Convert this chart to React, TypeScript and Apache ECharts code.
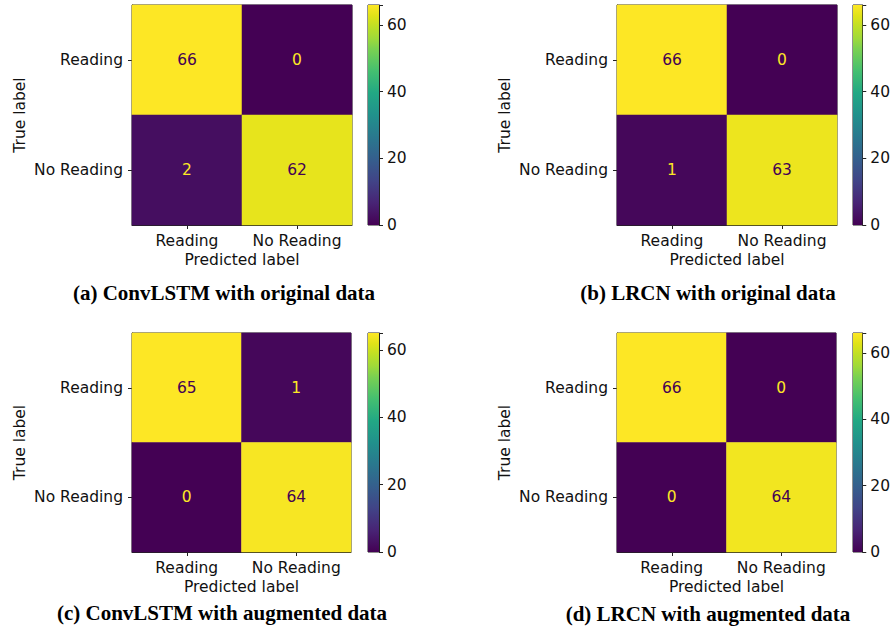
import React, { useEffect, useRef } from "react";
import * as echarts from "echarts";

const classLabels = ["Reading", "No Reading"];
// rows = true label, cols = predicted label
const matrixA = [[66, 0], [2, 62]];
const matrixB = [[66, 0], [1, 63]];
const matrixC = [[65, 1], [0, 64]];
const matrixD = [[66, 0], [0, 64]];
const captions = [
  "(a) ConvLSTM with original data",
  "(b) LRCN with original data",
  "(c) ConvLSTM with augmented data",
  "(d) LRCN with augmented data",
];
const colorbarTicks = [0, 20, 40, 60];

const viridisStops: [number, string][] = [
  [0.0, "#440154"], [0.1, "#482475"], [0.2, "#414487"], [0.3, "#355f8d"],
  [0.4, "#2a788e"], [0.5, "#21918c"], [0.6, "#22a884"], [0.7, "#44bf70"],
  [0.8, "#7ad151"], [0.85, "#a0da39"], [0.9, "#bddf26"], [0.95, "#dfe318"], [1.0, "#fde725"],
];

const FONT = "DejaVu Sans";

export default function App() {
  const ref = useRef<HTMLDivElement>(null);
  useEffect(() => {
    document.body.style.margin = "0";
    const chart = echarts.init(ref.current!, null, { renderer: "svg" });
    const matrices = [matrixA, matrixB, matrixC, matrixD];
    const pos = [
      { left: 132, top: 5, size: 220 },
      { left: 617, top: 5, size: 220 },
      { left: 132, top: 333, size: 219 },
      { left: 617, top: 333, size: 219 },
    ];
    const captionPos = [
      { x: 224, y: 293 },
      { x: 708, y: 293 },
      { x: 222, y: 613 },
      { x: 708, y: 614 },
    ];
    const grids: any[] = [];
    const xAxes: any[] = [];
    const yAxes: any[] = [];
    const series: any[] = [];
    const visualMaps: any[] = [];
    const graphics: any[] = [];
    const axisLineStyle = { color: "#222", width: 1 };
    const labelStyle = { fontFamily: FONT, fontSize: 15.5, color: "#111" };

    matrices.forEach((m, i) => {
      const p = pos[i];
      const flat = m.flat();
      const vmin = Math.min(...flat);
      const vmax = Math.max(...flat);
      const thresh = (vmin + vmax) / 2;
      // heatmap grid
      grids.push({
        left: p.left, top: p.top, width: p.size, height: p.size,
        show: true, borderColor: "#222", borderWidth: 1, backgroundColor: "transparent",
      });
      const gi = grids.length - 1;
      xAxes.push({
        type: "category", gridIndex: gi, data: classLabels,
        name: "Predicted label", nameLocation: "middle", nameGap: 27,
        nameTextStyle: { ...labelStyle },
        axisLine: { show: true, lineStyle: axisLineStyle },
        axisTick: { show: true, alignWithLabel: true, length: 4, lineStyle: axisLineStyle },
        axisLabel: { ...labelStyle, margin: 8, interval: 0 },
        splitLine: { show: false },
      });
      yAxes.push({
        type: "category", gridIndex: gi, data: classLabels, inverse: true,
        name: "True label", nameLocation: "middle", nameGap: 104, nameRotate: 90,
        nameTextStyle: { ...labelStyle },
        axisLine: { show: true, lineStyle: axisLineStyle },
        axisTick: { show: true, alignWithLabel: true, length: 4, lineStyle: axisLineStyle },
        axisLabel: { ...labelStyle, margin: 9, interval: 0 },
        splitLine: { show: false },
      });
      const data: any[] = [];
      m.forEach((row, r) =>
        row.forEach((v, c) => {
          data.push({
            value: [c, r, v],
            label: { color: v < thresh ? "#fde725" : "#440154" },
          });
        })
      );
      series.push({
        type: "heatmap", xAxisIndex: xAxes.length - 1, yAxisIndex: yAxes.length - 1,
        data,
        label: { show: true, fontFamily: FONT, fontSize: 15.5, formatter: (pp: any) => String(pp.value[2]) },
        emphasis: { disabled: true },
        itemStyle: { borderWidth: 0 },
      });
      visualMaps.push({
        type: "continuous", show: false, seriesIndex: series.length - 1,
        min: vmin, max: vmax, dimension: 2,
        inRange: { color: viridisStops.map((s) => s[1]) },
      });

      // colorbar grid
      grids.push({
        left: p.left + 236, top: p.top, width: 11, height: p.size,
        show: true, borderColor: "#222", borderWidth: 1, backgroundColor: "transparent",
      });
      const cgi = grids.length - 1;
      xAxes.push({
        type: "category", gridIndex: cgi, data: [""], show: false,
        boundaryGap: true,
      });
      yAxes.push({
        type: "value", gridIndex: cgi, position: "right", min: vmin, max: vmax,
        interval: 20,
        axisLine: { show: true, lineStyle: axisLineStyle },
        axisTick: { show: true, length: 4, lineStyle: axisLineStyle },
        axisLabel: {
          ...labelStyle, margin: 8,
          formatter: (v: number) => (colorbarTicks.includes(v) ? String(v) : ""),
        },
        splitLine: { show: false },
      });
      series.push({
        type: "bar", xAxisIndex: xAxes.length - 1, yAxisIndex: yAxes.length - 1,
        data: [vmax], barWidth: "100%", barCategoryGap: 0, silent: true,
        itemStyle: {
          color: new echarts.graphic.LinearGradient(0, 1, 0, 0,
            viridisStops.map((s) => ({ offset: s[0], color: s[1] }))),
        },
      });

      graphics.push({
        type: "text", x: captionPos[i].x, y: captionPos[i].y,
        style: {
          text: captions[i], fontFamily: "Liberation Serif", fontWeight: "bold",
          fontSize: 21, fill: "#000", textAlign: "center", textVerticalAlign: "middle",
        },
      });
    });

    chart.setOption({
      animation: false,
      backgroundColor: "#fff",
      grid: grids,
      xAxis: xAxes,
      yAxis: yAxes,
      visualMap: visualMaps,
      series,
      graphic: graphics,
    });
    return () => chart.dispose();
  }, []);
  return <div ref={ref} style={{ width: 893, height: 629 }} />;
}
